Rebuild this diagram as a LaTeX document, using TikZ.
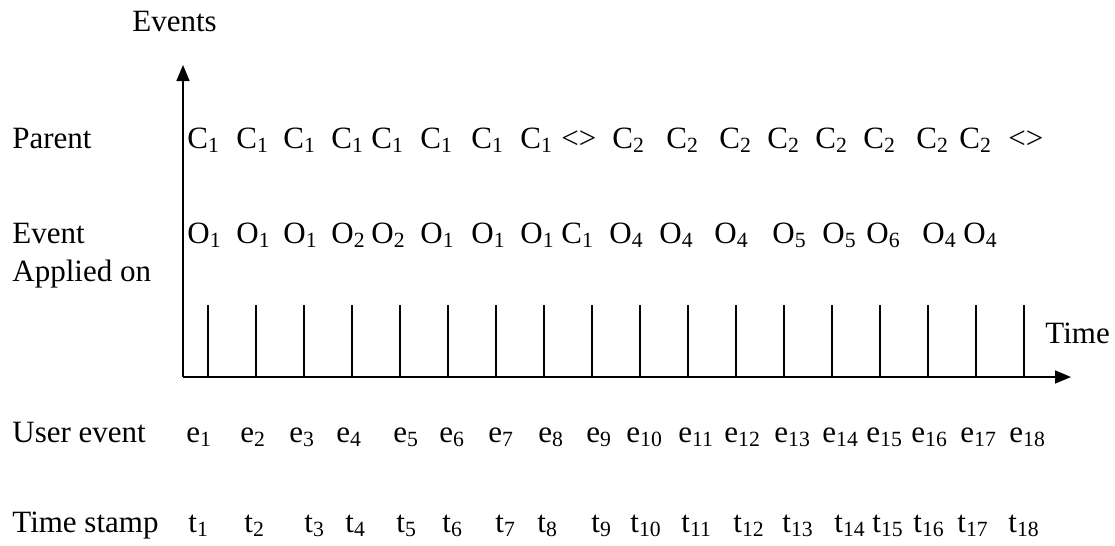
\documentclass[tikz,border=0pt]{standalone}
\usepackage{fontspec}
\setmainfont{Liberation Serif}
\usetikzlibrary{arrows.meta}
\newcommand{\rowfont}{\fontsize{15.5}{19}\selectfont}

\begin{document}
\begin{tikzpicture}[
  x=0.5pt, y=-0.5pt,
  every node/.style={font=\rowfont, inner sep=0pt, anchor=base west},
  axis/.style={line width=0.8pt, -{Triangle[length=8pt, width=6.5pt]}},
  tickline/.style={line width=0.8pt}
]
  \useasboundingbox (0,0) rectangle (1115,546);

  % axes
  \coordinate (origin) at (183,377);
  \coordinate (ytop) at (183,65);
  \coordinate (xend) at (1071,377);
  \draw[axis] (origin) -- (ytop);
  \draw[axis] (origin) -- (xend);
  \node (yname) at (132,32) {Events};
  \node (xname) at (1045,343) {Time};

  % ticks
  \foreach \i in {1,...,18} {
    \coordinate (tick\i) at ({208+48*(\i-1)},305);
    \draw[tickline] (tick\i) -- (tick\i |- origin);
  }

  % row labels
  \node (lblparent) at (12,148) {Parent};
  \node (lblevent) at (12,243) {Event};
  \node (lblapplied) at (12,281) {Applied on};
  \node (lbluser) at (12,442) {User event};
  \node (lblstamp) at (12,532) {Time stamp};

  % parent row
  \foreach \px/\lb/\sb [count=\k] in {187/C/1, 236/C/1, 283/C/1, 331/C/1,
      371/C/1, 420/C/1, 471/C/1, 520/C/1, 561/{<>}/{}, 612/C/2, 666/C/2,
      719/C/2, 767/C/2, 815/C/2, 863/C/2, 916/C/2, 959/C/2, 1008/{<>}/{}}
    \node (par\k) at (\px,148) {\lb\textsubscript{\sb}};

  % event applied on row
  \foreach \px/\lb/\sb [count=\k] in {187/O/1, 236/O/1, 283/O/1, 331/O/2,
      371/O/2, 420/O/1, 471/O/1, 520/O/1, 561/C/1, 609/O/4, 659/O/4,
      714/O/4, 772/O/5, 822/O/5, 866/O/6, 922/O/4, 963/O/4}
    \node (obj\k) at (\px,243) {\lb\textsubscript{\sb}};

  % user events
  \foreach \px [count=\k] in {186, 240, 289, 336, 393, 439, 488, 538, 586,
      626, 678, 724, 774, 822, 866, 911, 960, 1009}
    \node (ev\k) at (\px,442) {e\textsubscript{\k}};

  % time stamps
  \foreach \px [count=\k] in {188, 244, 304, 345, 396, 442, 495, 537, 591,
      630, 681, 733, 782, 834, 872, 913, 957, 1008}
    \node (ts\k) at (\px,532) {t\textsubscript{\k}};
\end{tikzpicture}
\end{document}
